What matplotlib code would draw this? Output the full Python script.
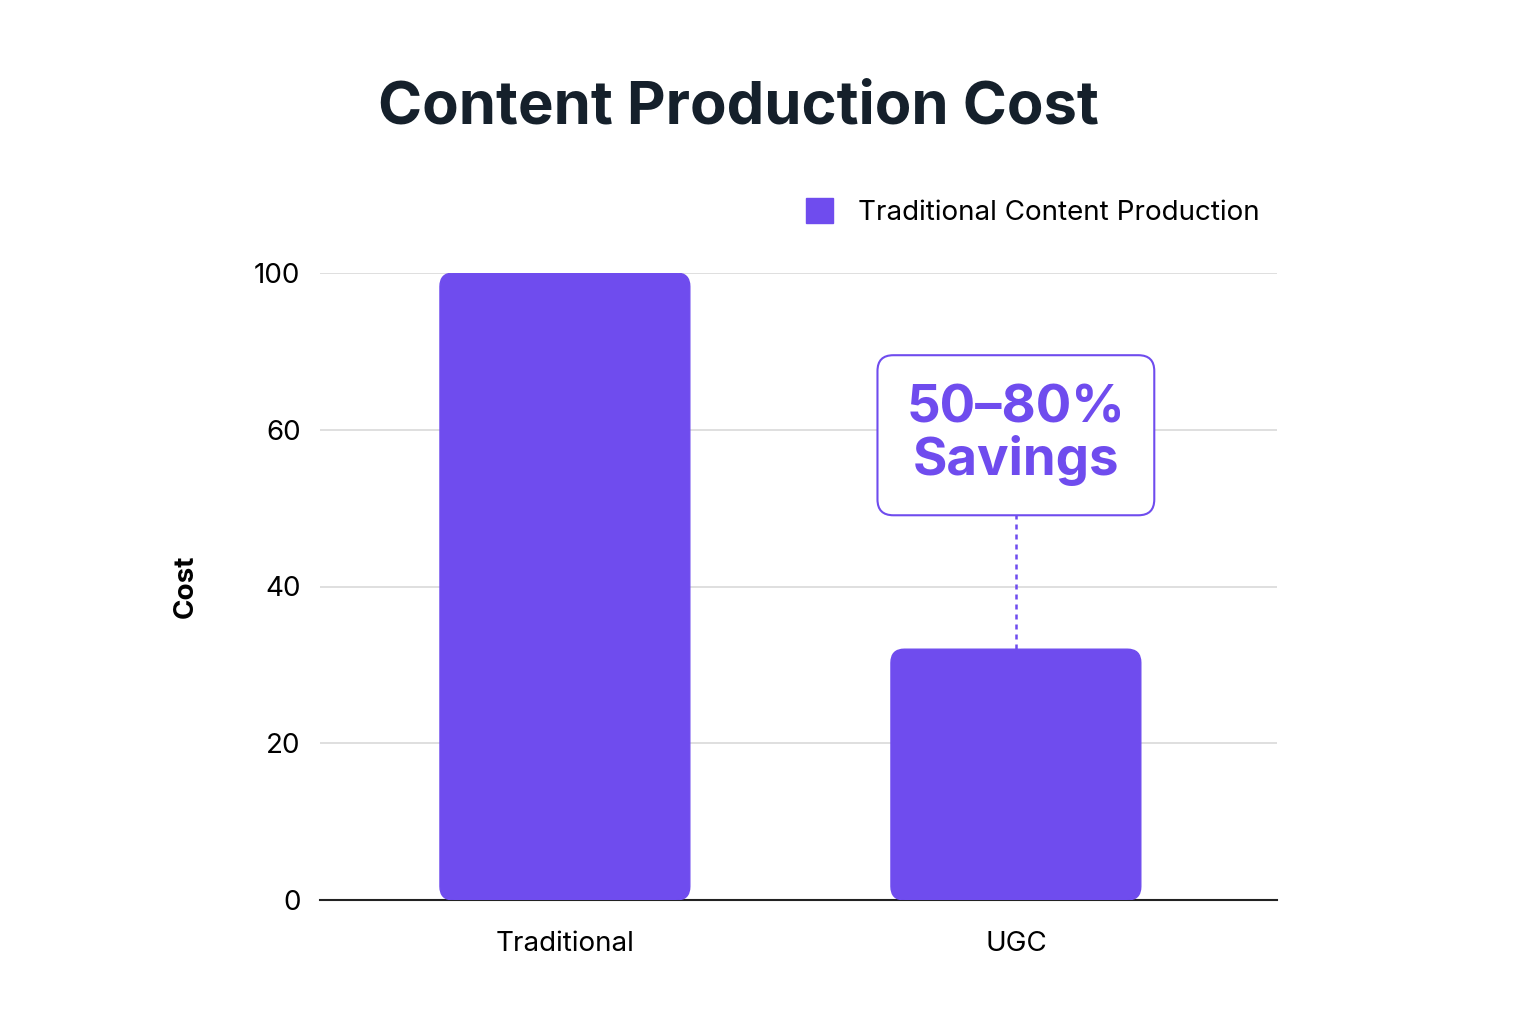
import matplotlib
matplotlib.use("Agg")
import matplotlib.pyplot as plt
from matplotlib.patches import FancyBboxPatch

categories = ["Traditional", "UGC"]
values = [80, 32]
tick_values = [0, 20, 40, 60, 80]
tick_labels = ["0", "20", "40", "60", "100"]
series_name = "Traditional Content Production"
annotation = "50–80%\nSavings"
color = "#6F4CEE"

plt.rcParams["font.family"] = "Inter"
fig = plt.figure(figsize=(15.36, 10.24), dpi=100)
ax = fig.add_axes([320/1536, 1-900/1024, 957/1536, (900-273)/1024])
x = list(range(len(categories)))
bars = ax.bar(x, values, width=0.554, color=color, label=series_name, zorder=3)
for b in bars:
    b.set_visible(False)
    fb = FancyBboxPatch((b.get_x(), 0), b.get_width(), b.get_height(),
                        boxstyle="round,pad=0,rounding_size=0.03",
                        mutation_aspect=80/0.554*0.4, color=color, zorder=3)
    ax.add_patch(fb)
ax.set_xlim(-0.543, 1.579)
ax.set_ylim(0, 80)
ax.set_yticks(tick_values, tick_labels)
ax.set_xticks(x, categories)
ax.tick_params(axis="both", length=0, labelsize=20, pad=14)
ax.tick_params(axis="x", pad=22)
ax.grid(axis="y", color="#d9d9d9", lw=1.2, zorder=0)
for s in ["top", "right", "left"]:
    ax.spines[s].set_visible(False)
ax.spines["bottom"].set_color("#222222")
ax.spines["bottom"].set_linewidth(1.5)
ax.set_ylabel("Cost", fontsize=20, fontweight="bold", labelpad=40)

ax.plot([1, 1], [values[1], 49.5], ls=(0, (2, 2)), color=color, lw=1.8, zorder=4)
ax.text(1, 59.3, annotation, ha="center", va="center", fontsize=38, fontweight="bold",
        color=color, linespacing=1.05, zorder=5,
        bbox=dict(boxstyle="round,pad=0.55,rounding_size=0.3", fc="white", ec=color, lw=1.5))

fig.text(738/1536, 1-108/1024, "Content Production Cost", ha="center", va="center",
         fontsize=43, fontweight="bold", color="#15202b")
h = plt.Rectangle((0, 0), 1, 1, color=color)
fig.legend([h], [series_name], loc="center right", bbox_to_anchor=(1285/1536, 1-212/1024),
           frameon=False, fontsize=20, handlelength=1.0, handleheight=1.0, handletextpad=0.9)
fig.savefig("out.png", dpi=100, facecolor="white")
